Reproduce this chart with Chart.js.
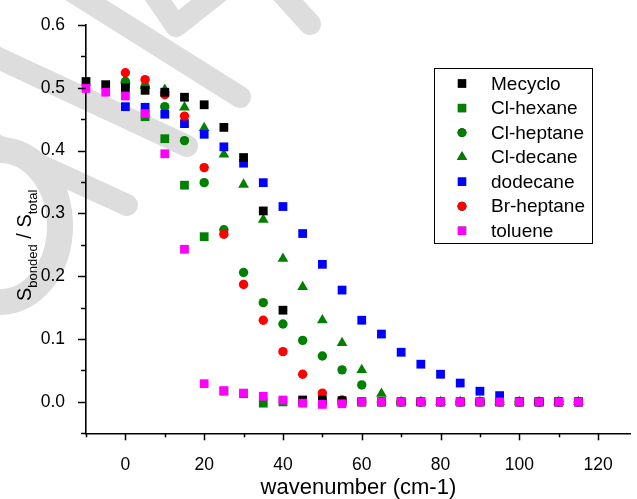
<!DOCTYPE html>
<html><head><meta charset="utf-8">
<script src="https://cdn.jsdelivr.net/npm/chart.js@4.4.0/dist/chart.umd.min.js"></script>
<style>html,body{margin:0;padding:0;background:#fff;overflow:hidden}#wrap{position:relative;width:637px;height:499px}</style>
</head><body><div id="wrap"><canvas id="c" width="637" height="499"></canvas></div>
<script>
// ---- data ----
const wavenumber = [-10,-5,0,5,10,15,20,25,30,35,40,45,50,55,60,65,70,75,80,85,90,95,100,105,110,115];
const seriesNames = ['Mecyclo','Cl-hexane','Cl-heptane','Cl-decane','dodecane','Br-heptane','toluene'];
const mecyclo   = [0.510,0.505,0.500,0.496,0.493,0.485,0.473,0.437,0.389,0.304,0.146,0.003,0.003,0.002,0,0,0,0,0,0,0,0,0,0,0,0];
const clHexane  = [null,null,0.505,0.454,0.419,0.345,0.263,0.017,0.013,-0.002,0,0,0,0,0,0,0,0,0,0,0,0,0,0,0,0];
const clHeptane = [null,null,0.510,0.502,0.470,0.416,0.349,0.274,0.206,0.158,0.124,0.098,0.073,0.051,0.027,0,0,0,0,0,0,0,0,0,0,0];
const clDecane  = [null,null,0.512,0.503,0.497,0.469,0.436,0.394,0.346,0.290,0.228,0.183,0.130,0.094,0.051,0.013,0,0,0,0,0,0,0,0,0,0];
const dodecane  = [null,null,0.470,0.469,0.458,0.443,0.426,0.406,0.380,0.349,0.311,0.268,0.219,0.178,0.130,0.108,0.079,0.060,0.044,0.030,0.017,0.010,0,0,0,0];
const brHeptane = [null,null,0.524,0.513,0.489,0.455,0.373,0.267,0.187,0.130,0.080,0.044,0.014,0.003,0,0,0,0,0,0,0,0,0,0,0,0];
const toluene   = [0.499,0.493,0.487,0.459,0.395,0.243,0.029,0.018,0.014,0.009,0.003,-0.002,-0.004,-0.003,0,0,0,0,0,0,0,0,0,0,0,0];
const xTickValues = [-10,0,10,20,30,40,50,60,70,80,90,100,110,120];
const xTickLabels = ['0','20','40','60','80','100','120'];
const yTickValues = [-0.05,0,0.05,0.1,0.15,0.2,0.25,0.3,0.35,0.4,0.45,0.5,0.55,0.6];
const yTickLabels = ['0.0','0.1','0.2','0.3','0.4','0.5','0.6'];
const xTitle = 'wavenumber (cm-1)';

// ---- styling ----
const FONT = "'Liberation Sans', Arial, Helvetica, sans-serif";
const styles = [
  {color:'#000000', style:'rect', r:6.2, order:1},
  {color:'#008000', style:'rect', r:6.2, order:6},
  {color:'#008000', style:'circle', r:4.7, order:5},
  {color:'#008000', style:'triangle', r:6.2, order:4},
  {color:'#0000ff', style:'rect', r:6.2, order:3},
  {color:'#ff0000', style:'circle', r:4.7, order:2},
  {color:'#ff00ff', style:'rect', r:6.2, order:0}
];
const allSeries = [mecyclo, clHexane, clHeptane, clDecane, dodecane, brHeptane, toluene];
const toPoints = arr => wavenumber.map((x,i)=>({x:x, y:arr[i]})).filter(p=>p.y!==null);

const datasets = allSeries.map((arr,i)=>({
  label: seriesNames[i],
  data: toPoints(arr),
  pointStyle: styles[i].style,
  pointRadius: styles[i].r,
  pointHoverRadius: styles[i].r,
  pointBorderWidth: 0,
  backgroundColor: styles[i].color,
  borderColor: styles[i].color,
  showLine: false,
  order: styles[i].order,
  clip: false
}));

const isMajor = (v, step) => Math.abs(Math.round(v/step) - v/step) < 1e-6;

// watermark behind everything
const watermark = {
  id:'watermark',
  beforeDraw(chart){
    const ctx = chart.ctx;
    ctx.save();
    ctx.strokeStyle = '#dddddd';
    ctx.lineCap = 'round';
    ctx.lineJoin = 'round';
    ctx.lineWidth = 22;
    const seg = (a,b,c,d)=>{ctx.beginPath();ctx.moveTo(a,b);ctx.lineTo(c,d);ctx.stroke();};
    seg(62,-15,240,97);
    seg(-15,52,187,146);
    seg(-15,140,127,205);
    seg(270,-20,310,24);
    ctx.beginPath(); ctx.moveTo(148,-15); ctx.lineTo(176,26); ctx.lineTo(228,-15); ctx.stroke();
    ctx.lineWidth = 26;
    ctx.beginPath(); ctx.ellipse(0,226,60,76,0,-Math.PI/2,Math.PI/2); ctx.stroke();
    ctx.restore();
  }
};

// tick marks, y title, legend
const decor = {
  id:'decor',
  afterDraw(chart){
    const ctx = chart.ctx, xs = chart.scales.x, ys = chart.scales.y, ca = chart.chartArea;
    ctx.save();
    ctx.strokeStyle = '#000'; ctx.lineWidth = 1.5;
    xs.ticks.forEach(t=>{
      const px = Math.round(xs.getPixelForValue(t.value))+0.5;
      const len = isMajor(t.value,20) ? 7 : 4;
      ctx.beginPath(); ctx.moveTo(px, ca.bottom); ctx.lineTo(px, ca.bottom+len); ctx.stroke();
    });
    ys.ticks.forEach(t=>{
      const py = Math.round(ys.getPixelForValue(t.value))+0.5;
      const len = isMajor(t.value,0.1) ? 8 : 5;
      ctx.beginPath(); ctx.moveTo(ca.left, py); ctx.lineTo(ca.left-len, py); ctx.stroke();
    });
    // y title with subscripts
    ctx.fillStyle = '#000';
    ctx.translate(31, 301);
    ctx.rotate(-Math.PI/2);
    ctx.textBaseline = 'alphabetic';
    ctx.textAlign = 'left';
    let xpos = 0;
    const part = (txt, size, dy)=>{ ctx.font = size+'px '+FONT; ctx.fillText(txt, xpos, dy); xpos += ctx.measureText(txt).width; };
    part('S',20,0); part('bonded',13,6); part(' / S',20,0); part('total',13,6);
    ctx.restore();

    // legend
    ctx.save();
    ctx.strokeStyle = '#000'; ctx.lineWidth = 1;
    ctx.strokeRect(434.5, 68.5, 158, 175);
    ctx.font = '19px '+FONT; ctx.textBaseline = 'middle'; ctx.textAlign = 'left'; ctx.fillStyle = '#000';
    seriesNames.forEach((name,i)=>{
      const y = 83.5 + i*24.55;
      Chart.helpers.drawPoint(ctx, {pointStyle: styles[i].style, radius: styles[i].r*0.95, borderWidth: 0, rotation: 0}, 462, y);
      ctx.fillStyle = styles[i].color;
      ctx.beginPath();
      if (styles[i].style==='circle'){ ctx.arc(462,y,styles[i].r*0.95,0,Math.PI*2); }
      else if (styles[i].style==='rect'){ const s=styles[i].r*0.95*Math.SQRT1_2; ctx.rect(462-s,y-s,2*s,2*s); }
      else { const r=styles[i].r*0.95; ctx.moveTo(462,y-r); ctx.lineTo(462+r*0.866,y+r/2); ctx.lineTo(462-r*0.866,y+r/2); ctx.closePath(); }
      ctx.fill();
      ctx.fillStyle = '#000';
      ctx.fillText(name, 491, y+1);
    });
    ctx.restore();
  }
};

new Chart(document.getElementById('c'), {
  type:'scatter',
  data:{datasets},
  options:{
    responsive:false, animation:false, devicePixelRatio:1,
    layout:{padding:{top:25,left:0,right:0,bottom:0}},
    plugins:{legend:{display:false}, tooltip:{enabled:false}},
    scales:{
      x:{
        type:'linear', min:-10, max:128.3,
        afterBuildTicks: s => { s.ticks = xTickValues.map(v=>({value:v})); },
        afterFit: s => { s.height = 65.7; },
        ticks:{autoSkip:false, maxRotation:0, padding:13, color:'#000',
          font:{family:FONT, size:17.5},
          callback: v => isMajor(v,20) ? xTickLabels[Math.round(v/20)] : ''},
        grid:{display:false},
        border:{display:true, color:'#000', width:1.6},
        title:{display:true, text:xTitle, color:'#000', font:{family:FONT, size:22, lineHeight:1.05}, padding:{top:0,bottom:0}}
      },
      y:{
        type:'linear', min:-0.05, max:0.6,
        afterBuildTicks: s => { s.ticks = yTickValues.map(v=>({value:v})); },
        afterFit: s => { s.width = 86; },
        ticks:{autoSkip:false, padding:13, color:'#000',
          font:{family:FONT, size:17.5},
          callback: v => isMajor(v,0.1) ? yTickLabels[Math.round(v*10)] : ''},
        grid:{display:false},
        border:{display:true, color:'#000', width:1.6}
      }
    }
  },
  plugins:[watermark, decor]
});
</script></body></html>
